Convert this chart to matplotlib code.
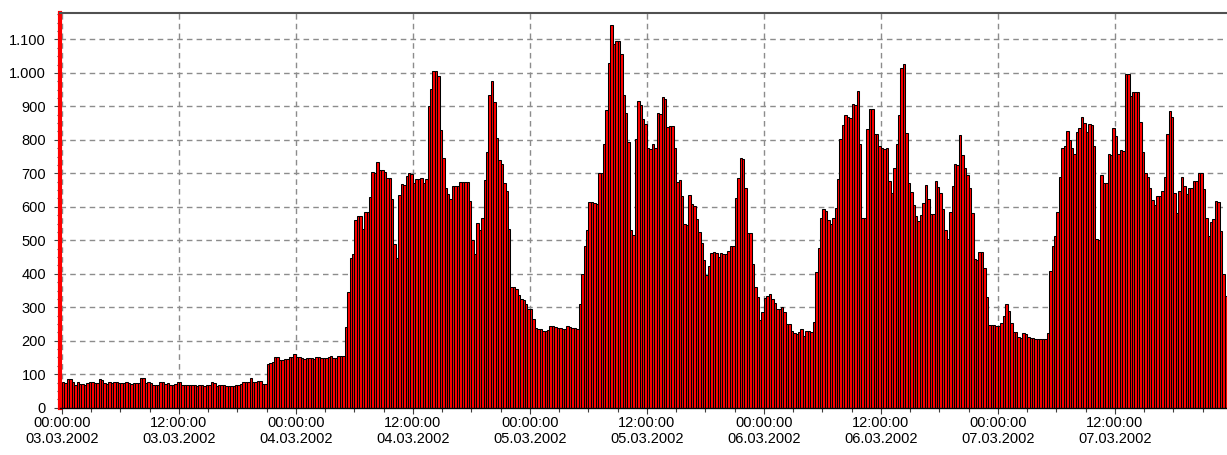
import matplotlib
matplotlib.use("Agg")
import matplotlib.pyplot as plt
import matplotlib.dates as mdates
from matplotlib.ticker import MultipleLocator, FuncFormatter
import pandas as pd
import numpy as np

# 15-minute values, one list per day
day_03 = [76, 73, 86, 86, 76, 69, 76, 71, 71, 69,
          74, 78, 78, 73, 73, 86, 82, 74, 71, 78,
          73, 76, 76, 75, 74, 74, 76, 73, 72, 73,
          73, 73, 90, 88, 73, 76, 73, 68, 69, 68,
          78, 77, 71, 73, 67, 69, 70, 78, 77, 68,
          68, 69, 67, 67, 68, 64, 68, 67, 64, 68,
          68, 78, 74, 66, 68, 69, 68, 64, 65, 64,
          64, 68, 69, 70, 78, 77, 78, 90, 76, 77,
          80, 81, 71, 72, 130, 135, 136, 152, 151, 143,
          143, 145, 146, 151, 150, 160]
day_04 = [152, 151, 147, 146,
          147, 148, 147, 146, 152, 151, 147, 148, 147, 150,
          155, 147, 148, 155, 154, 155, 242, 346, 447, 458,
          560, 573, 572, 533, 586, 585, 629, 703, 702, 733,
          711, 710, 703, 687, 686, 624, 490, 448, 634, 667,
          666, 692, 700, 699, 672, 684, 683, 686, 671, 684,
          902, 952, 1007, 1005, 992, 830, 746, 657, 639, 624,
          662, 661, 662, 674, 673, 674, 675, 616, 500, 460,
          552, 532, 566, 679, 763, 934, 976, 914, 805, 740,
          729, 670, 648, 535, 361, 360, 356, 337, 324, 323,
          311, 295]
day_05 = [295, 265, 237, 236, 235, 228, 229, 232,
          245, 244, 240, 238, 237, 236, 235, 245, 240, 239,
          237, 235, 311, 399, 484, 531, 615, 614, 610, 608,
          702, 701, 787, 889, 1031, 1143, 1086, 1095, 1094, 1056,
          933, 880, 795, 531, 516, 804, 916, 904, 861, 846,
          777, 773, 787, 775, 879, 878, 929, 921, 839, 842,
          841, 777, 673, 680, 633, 548, 547, 636, 608, 603,
          563, 526, 492, 440, 396, 424, 462, 464, 463, 449,
          462, 459, 458, 469, 484, 483, 626, 686, 745, 744,
          656, 523, 522, 429, 362, 332, 262, 285]
day_06 = [327, 334,
          339, 324, 314, 295, 294, 300, 285, 250, 249, 228,
          222, 221, 225, 235, 215, 230, 228, 227, 257, 404,
          477, 568, 592, 587, 560, 548, 566, 596, 683, 802,
          844, 875, 867, 866, 906, 905, 946, 787, 568, 567,
          832, 892, 891, 817, 816, 782, 775, 774, 775, 678,
          640, 715, 787, 875, 1014, 1026, 820, 670, 645, 605,
          573, 558, 576, 612, 665, 623, 580, 579, 676, 658,
          640, 592, 531, 503, 585, 663, 727, 726, 815, 755,
          715, 695, 655, 581, 443, 442, 466, 465, 416, 332,
          247, 246, 247, 245]
day_07 = [245, 253, 274, 311, 290, 253,
          227, 225, 210, 208, 222, 221, 210, 208, 207, 205,
          205, 206, 205, 204, 223, 409, 484, 513, 585, 688,
          775, 782, 825, 799, 777, 757, 822, 836, 867, 849,
          822, 846, 845, 782, 503, 502, 695, 672, 671, 757,
          756, 836, 812, 757, 769, 768, 998, 997, 931, 943,
          943, 942, 854, 765, 702, 690, 656, 620, 605, 633,
          632, 648, 688, 817, 885, 867, 640, 583, 648, 690,
          663, 637, 656, 655, 678, 677, 702, 701, 653, 568,
          513, 556, 563, 616, 615, 528, 399, 334]

values = day_03 + day_04 + day_05 + day_06 + day_07
start = pd.Timestamp("2002-03-03 00:00")
times = pd.date_range(start, periods=len(values), freq="15min")
step = pd.Timedelta(minutes=15)

fig = plt.figure(figsize=(12.27, 4.55), dpi=100)
ax = fig.add_axes([60 / 1227, (455 - 407.7) / 455, 1 - 60 / 1227, (407.7 - 13.3) / 455])

ax.bar(times, values, width=step / pd.Timedelta(days=1), align="edge",
       color="#ff0000", edgecolor="black", linewidth=0.75, zorder=2)

ax.set_xlim(mdates.date2num(start - 0.8 * step), mdates.date2num(start + len(values) * step))
ax.set_ylim(0, 1178)

ax.xaxis.set_major_locator(mdates.HourLocator(byhour=[0, 12]))
ax.xaxis.set_minor_locator(mdates.HourLocator(interval=3))
ax.xaxis.set_major_formatter(mdates.DateFormatter("%H:%M:%S\n%d.%m.%Y"))
ax.yaxis.set_major_locator(MultipleLocator(100))
ax.yaxis.set_minor_locator(MultipleLocator(25))
ax.yaxis.set_major_formatter(FuncFormatter(lambda v, p: f"{int(round(v)):,}".replace(",", ".")))

ax.set_axisbelow(True)
ax.grid(True, which="major", color="#8c8c8c", linestyle=(0, (4, 3)), linewidth=1.0)

for lab in ax.get_xticklabels() + ax.get_yticklabels():
    lab.set_fontfamily("Liberation Sans")
    lab.set_fontsize(10.5)
    lab.set_color("black")

ax.tick_params(axis="x", which="major", length=4, width=0.8, color="#404040", pad=2)
ax.tick_params(axis="x", which="minor", length=3, width=0.8, color="#404040")
ax.tick_params(axis="y", which="major", length=4, width=0.8, color="#404040", pad=6)
ax.tick_params(axis="y", which="minor", length=2, width=0.8, color="#404040")

ax.spines["left"].set_color("#ff0000")
ax.spines["left"].set_linewidth(3.0)
ax.spines["top"].set_color("#505050")
ax.spines["top"].set_linewidth(1.5)
ax.spines["bottom"].set_color("black")
ax.spines["bottom"].set_linewidth(1.0)
ax.spines["right"].set_visible(False)

fig.savefig("out.png", dpi=100)
